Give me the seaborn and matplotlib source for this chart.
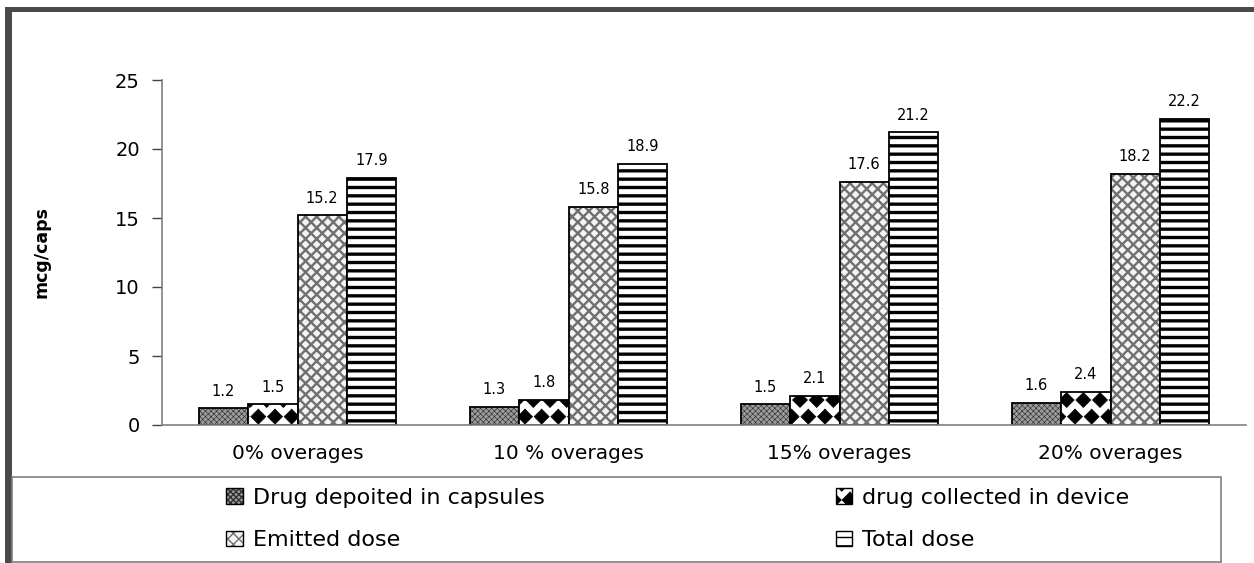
import numpy as np
import pandas as pd
import matplotlib
matplotlib.use("Agg")
import matplotlib.pyplot as plt
import matplotlib.colors as mcolors
from matplotlib import hatch as mhatch
from matplotlib.path import Path
from matplotlib.patches import Rectangle, Patch
import seaborn as sns

# ---- data -------------------------------------------------------------
groups = ["0% overages", "10 % overages", "15% overages", "20% overages"]
series = ["Drug depoited in capsules", "drug collected in device",
          "Emitted dose", "Total dose"]
deposited = [1.2, 1.3, 1.5, 1.6]
collected = [1.5, 1.8, 2.1, 2.4]
emitted = [15.2, 15.8, 17.6, 18.2]
total = [17.9, 18.9, 21.2, 22.2]
y_ticks = [0, 5, 10, 15, 20, 25]


# ---- a filled-diamond hatch, used in place of the star hatch ------------
class DiamondHatch(mhatch.Shapes):
    size = 0.45
    filled = True

    def __init__(self, hatch, density):
        self.num_rows = int(hatch.count('*') * density)
        path = Path.unit_regular_polygon(4)
        self.shape_vertices = path.vertices
        self.shape_codes = np.full(len(self.shape_vertices), Path.LINETO,
                                   dtype=Path.code_type)
        self.shape_codes[0] = Path.MOVETO
        super().__init__(hatch, density)


mhatch._hatch_types = [DiamondHatch if t is mhatch.Stars else t
                       for t in mhatch._hatch_types]

styles = [
    dict(face='#9c9c9c', hatch='xxxxxx', hcolor='#303030', hlw=0.45),
    dict(face='white', hatch='*', hcolor='black', hlw=0.5),
    dict(face='#f4f4f4', hatch='xxx', hcolor='#707070', hlw=1.7),
    dict(face='white', hatch='--', hcolor='black', hlw=2.4),
]


def style_patch(p, st):
    p.set_facecolor(st['face'])
    p.set_edgecolor('black')
    p.set_hatch(st['hatch'])
    hc = mcolors.to_rgba(st['hcolor'])
    if hasattr(p, 'set_hatchcolor'):
        p.set_hatchcolor(hc)
    else:
        p._hatch_color = hc
    if hasattr(p, 'set_hatch_linewidth'):
        p.set_hatch_linewidth(st['hlw'])
    else:
        p._hatch_linewidth = st['hlw']


df = pd.DataFrame({
    'group': np.tile(groups, 4),
    'series': np.repeat(series, 4),
    'value': deposited + collected + emitted + total,
})

sns.set_theme(style='white')
plt.rcParams['font.family'] = ['DejaVu Sans']
plt.rcParams['hatch.linewidth'] = 1.0
for key in ['text.color', 'axes.labelcolor', 'xtick.color', 'ytick.color']:
    plt.rcParams[key] = 'black'

fig = plt.figure(figsize=(12.54, 5.63), dpi=100)
fig.patch.set_facecolor('white')
ax = fig.add_axes([162 / 1254, 138 / 563, 1084 / 1254, 345 / 563])

sns.barplot(data=df, x='group', y='value', hue='series', order=groups,
            hue_order=series, width=0.73, palette=['white'] * 4,
            edgecolor='black', linewidth=1.3, legend=False, ax=ax)

for cont, st in zip(ax.containers, styles):
    for p in cont.patches:
        style_patch(p, st)
    ax.bar_label(cont, labels=[f"{v:.1f}" for v in cont.datavalues],
                 padding=7, fontsize=10.5, color='black')

# ---- axes -------------------------------------------------------------
ax.set_ylim(0, 25)
ax.set_xlim(-0.5, 3.5)
ax.set_yticks(y_ticks)
ax.set_yticklabels([str(t) for t in y_ticks], fontsize=14)
ax.set_xticks(range(len(groups)))
ax.set_xticklabels(groups, fontsize=14.5)
ax.set_xticks(np.arange(-0.5, len(groups), 1.0), minor=True)
ax.tick_params(axis='x', which='major', length=0, pad=14)
ax.tick_params(axis='x', which='minor', length=6, width=1, color='#404040',
               direction='out')
ax.tick_params(axis='y', length=7, width=1, color='#404040', direction='out',
               pad=9, left=True)
ax.set_xlabel('')
ax.set_ylabel('mcg/caps', fontsize=12.5, fontweight='bold')
ax.yaxis.set_label_coords(-0.103, 0.5)
for s in ['top', 'right']:
    ax.spines[s].set_visible(False)
for s in ['left', 'bottom']:
    ax.spines[s].set_color('#808080')
    ax.spines[s].set_linewidth(1.2)
ax.grid(False)

# ---- outer frame bands --------------------------------------------------
fig.add_artist(Rectangle((5 / 1254, 551 / 563), 1 - 5 / 1254, 5 / 563,
                         transform=fig.transFigure, facecolor='#4a4a4a',
                         edgecolor='none'))
fig.add_artist(Rectangle((5 / 1254, 0), 7 / 1254, 556 / 563,
                         transform=fig.transFigure, facecolor='#4a4a4a',
                         edgecolor='none'))

# ---- legend (row-major order in two columns) ----------------------------
fig.add_artist(Rectangle((12 / 1254, 1 / 563), 1209 / 1254, 85 / 563,
                         transform=fig.transFigure, facecolor='none',
                         edgecolor='#808080', linewidth=1.2))
handles = []
for st in styles:
    h = Patch(linewidth=1.0)
    style_patch(h, st)
    handles.append(h)
order = [0, 2, 1, 3]
fig.legend([handles[i] for i in order], [series[i] for i in order],
           loc='upper left', bbox_to_anchor=(226 / 1254, 75 / 563), ncol=2,
           frameon=False, fontsize=16, handlelength=0.75, handleheight=0.7,
           handletextpad=0.45, columnspacing=13.1, labelspacing=1.0,
           borderpad=0, borderaxespad=0)

fig.savefig('out.png', dpi=100, facecolor='white')
